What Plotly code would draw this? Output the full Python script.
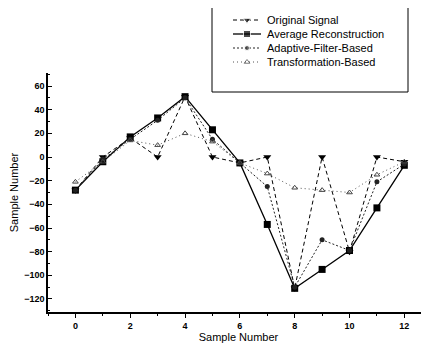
import plotly.graph_objects as go

samples = list(range(13))
original = [-28, 0, 16, 0, 51, 0, -5, 0, -111, 0, -80, 0, -4]
average = [-28, -4, 17, 33, 51, 23, -5, -57, -111, -95, -79, -43, -7]
adaptive = [-28, -2, 15, 31, 50, 15, -5, -25, -110, -70, -79, -21, -6]
transform = [-21, -4, 14, 10, 20, 13, -5, -14, -26, -28, -30, -15, -4]

series_names = ["Original Signal", "Average Reconstruction", "Adaptive-Filter-Based", "Transformation-Based"]
x_ticks = [0, 2, 4, 6, 8, 10, 12]
y_ticks = [-120, -100, -80, -60, -40, -20, 0, 20, 40, 60]

# page has an 8px body margin; figure fills the rest of the 429x346 window
OFF = 8
W, H = 429 - OFF, 346 - OFF
FONT = "Liberation Sans, Arial, sans-serif"


def px(x):
    return (x - OFF) / W


def py(y):
    return 1 - (y - OFF) / H


styles = [
    dict(line=dict(color="black", width=1, dash="4px,3px"),
         marker=dict(symbol="triangle-down", size=7, color="black")),
    dict(line=dict(color="black", width=1.3),
         marker=dict(symbol="square", size=7, color="black")),
    dict(line=dict(color="#222", width=1, dash="2px,2px"),
         marker=dict(symbol="circle", size=5, color="#222")),
    dict(line=dict(color="#555", width=1, dash="1px,3px"),
         marker=dict(symbol="triangle-up-open", size=5, color="#444", line=dict(width=1))),
]

fig = go.Figure()
for name, vals, st in zip(series_names, [original, average, adaptive, transform], styles):
    fig.add_trace(go.Scatter(x=samples, y=vals, name=name, mode="lines+markers",
                             line=st["line"], marker=st["marker"], showlegend=False))

# legend samples drawn on a small overlay axis
for i, (name, st) in enumerate(zip(series_names, styles)):
    mk = dict(st["marker"])
    mk["size"] = [0, mk["size"], 0]
    fig.add_trace(go.Scatter(x=[0, 0.5, 1], y=[i, i, i], mode="lines+markers",
                             line=st["line"], marker=mk, xaxis="x2", yaxis="y2",
                             showlegend=False, hoverinfo="skip"))
    fig.add_annotation(text=name, x=px(265), y=i, xref="paper", yref="y2",
                       xanchor="left", yanchor="middle", showarrow=False,
                       font=dict(family=FONT, size=11, color="black"))

tick_font = dict(family=FONT, size=9, color="black", weight="bold")
title_font = dict(family=FONT, size=11, color="black")

fig.update_layout(
    width=W, height=H,
    margin=dict(l=0, r=0, t=0, b=0),
    paper_bgcolor="white", plot_bgcolor="white",
    showlegend=False,
    xaxis=dict(domain=[px(48), 1], range=[-1, 12.9], tickvals=x_ticks, showline=True,
               linecolor="black", linewidth=1.5, ticks="outside", ticklen=4, tickcolor="black",
               showgrid=False, zeroline=False, automargin=False,
               minor=dict(dtick=1, ticks="outside", ticklen=2, tickcolor="black"),
               tickfont=tick_font,
               title=dict(text="Sample Number", font=title_font, standoff=2)),
    yaxis=dict(domain=[py(312), py(73)], range=[-131, 71], tickvals=y_ticks, showline=True,
               linecolor="black", linewidth=1.5, ticks="inside", ticklen=4, tickcolor="black",
               showgrid=False, zeroline=False, automargin=False,
               minor=dict(dtick=10, ticks="inside", ticklen=2, tickcolor="black"),
               tickfont=tick_font,
               title=dict(text="Sample Number", font=title_font, standoff=5)),
    xaxis2=dict(domain=[px(233), px(261)], range=[0, 1], visible=False, fixedrange=True, anchor="y2"),
    yaxis2=dict(domain=[py(66), py(16)], range=[3 + 4 / 14, -4 / 14], visible=False,
                fixedrange=True, anchor="x2"),
)

fig.add_shape(type="rect", xref="paper", yref="paper",
              x0=px(212), x1=px(408), y0=py(92), y1=py(7),
              line=dict(color="black", width=1), fillcolor="rgba(0,0,0,0)")

fig.write_html("out.html")
